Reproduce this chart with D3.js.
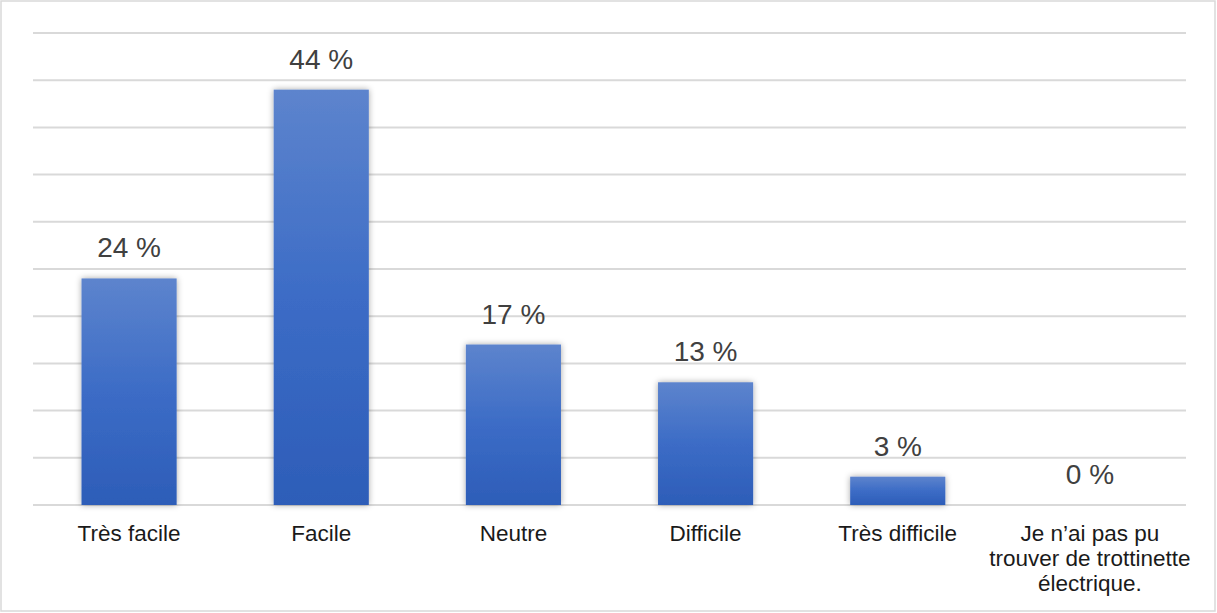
<!DOCTYPE html>
<html><head><meta charset="utf-8">
<script src="https://cdn.jsdelivr.net/npm/d3@7"></script>
<style>body{margin:0;background:#fff}svg{display:block;font-family:"Liberation Sans",Arial,sans-serif}</style>
</head><body>
<svg id="c" width="1217" height="613"></svg>
<script>
const categories = ["Très facile","Facile","Neutre","Difficile","Très difficile","Je n’ai pas pu trouver de trottinette électrique."];
const categoryLines = [["Très facile"],["Facile"],["Neutre"],["Difficile"],["Très difficile"],["Je n’ai pas pu","trouver de trottinette","électrique."]];
const values = [24,44,17,13,3,0];
const valueLabels = ["24 %","44 %","17 %","13 %","3 %","0 %"];
const gridTicks = [0,5,10,15,20,25,30,35,40,45,50];

const svg = d3.select("#c");
svg.append("rect").attr("x",1).attr("y",1).attr("width",1214).attr("height",610)
  .attr("fill","#fff").attr("stroke","#d9d9d9").attr("stroke-width",1.5);

const defs = svg.append("defs");
const g = defs.append("linearGradient").attr("id","bg").attr("x1",0).attr("y1",0).attr("x2",0).attr("y2",1);
g.append("stop").attr("offset","0%").attr("stop-color","#5d84cd");
g.append("stop").attr("offset","50%").attr("stop-color","#3c6cc6");
g.append("stop").attr("offset","100%").attr("stop-color","#2d5db8");
const f = defs.append("filter").attr("id","sh").attr("x","-30%").attr("y","-30%").attr("width","160%").attr("height","160%");
f.append("feDropShadow").attr("dx",0).attr("dy",0).attr("stdDeviation",3).attr("flood-color","#000").attr("flood-opacity",0.35);

const x = d3.scaleBand().domain(categories).range([33,1186]).paddingInner(0.505).paddingOuter(0.2525);
const y = d3.scaleLinear().domain([0,50]).range([505,33]);

svg.append("g").selectAll("line").data(gridTicks).join("line")
  .attr("x1",33).attr("x2",1186).attr("y1",d=>y(d)).attr("y2",d=>y(d))
  .attr("stroke","#d9d9d9").attr("stroke-width",2);

svg.append("g").selectAll("rect").data(values).join("rect")
  .attr("x",(d,i)=>x(categories[i])).attr("width",x.bandwidth())
  .attr("y",d=>y(d)).attr("height",d=>y(0)-y(d))
  .attr("fill","url(#bg)").attr("filter","url(#sh)");

svg.append("g").selectAll("text").data(values).join("text")
  .attr("x",(d,i)=>x(categories[i])+x.bandwidth()/2).attr("y",d=>y(d)-21)
  .attr("text-anchor","middle").attr("font-size",28).attr("fill","#404040")
  .text((d,i)=>valueLabels[i]);

const cl = svg.append("g").selectAll("text").data(categoryLines).join("text")
  .attr("x",(d,i)=>x(categories[i])+x.bandwidth()/2).attr("y",541)
  .attr("text-anchor","middle").attr("font-size",22.5).attr("fill","#1a1a1a");
cl.each(function(lines){
  const t = d3.select(this), cx = t.attr("x");
  lines.forEach((s,k)=>t.append("tspan").attr("x",cx).attr("dy",k?25:0).text(s));
});
</script>
</body></html>
